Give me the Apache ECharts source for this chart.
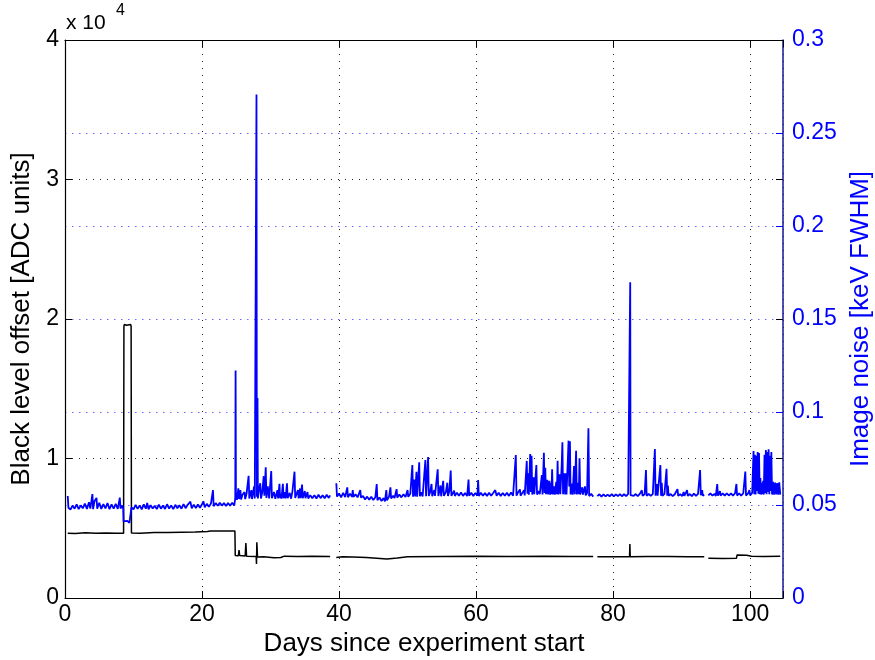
<!DOCTYPE html>
<html>
<head>
<meta charset="utf-8">
<script src="https://cdn.jsdelivr.net/npm/echarts@6/dist/echarts.min.js"></script>
<style>
html, body { margin: 0; padding: 0; background: #fff; }
#chart { width: 875px; height: 660px; }
</style>
</head>
<body>
<div id="chart"></div>
<script>
// black level offset [ADC units] vs day, one array per continuous run
var offsetSegA = [[0.4,4650],[1.5,4620],[3,4670],[4.5,4640],[6,4660],[7.5,4640],[8.55,4650],[8.6,19450],[8.65,19600],[9.0,19550],[9.6,19600],[9.65,19450],[9.7,4660],[11,4640],[13,4700],[15,4690],[17,4720],[19,4730],[20.8,4760],[21.2,4800],[23,4810],[24.8,4800],[24.85,3050],[25.3,3020],[25.4,3440],[25.5,3040],[26.3,3010],[26.4,3940],[26.5,3000],[27.9,2980],[27.95,2440],[28.0,4000],[28.1,2940],[29,2950],[30.5,2880],[31.5,2900],[32,3000],[34,2980],[36,2990],[38.7,2970]];
var offsetSegB = [[39.6,2900],[40.5,2950],[42,2940],[44,2900],[45.5,2850],[47,2800],[48.5,2860],[50,2960],[55,2980],[60,2990],[65,2980],[70,2990],[74,2970],[77.1,2980]];
var offsetSegC = [[77.7,2950],[80,2960],[82.4,2960],[82.45,3870],[82.5,2960],[85,2970],[88,2980],[91,2960],[93.3,2960]];
var offsetSegD = [[93.9,2850],[96,2840],[98,2850],[98.1,3090],[99.5,3060],[100.2,2990],[102,2980],[104.4,2990]];

// image noise [keV FWHM] vs day
var noiseSegA = [[0.4,0.0548],[0.5,0.0485],[0.8,0.0476],[1.1,0.0497],[1.4,0.048],[1.7,0.0503],[2.0,0.0478],[2.3,0.0498],[2.6,0.0482],[2.9,0.0507],[3.2,0.0479],[3.5,0.0515],[3.7,0.0481],[4.0,0.0559],[4.1,0.0478],[4.3,0.052],[4.6,0.0538],[4.7,0.048],[5.0,0.0512],[5.3,0.0479],[5.6,0.0505],[5.9,0.0482],[6.2,0.051],[6.5,0.0478],[6.8,0.0503],[7.1,0.0481],[7.4,0.0506],[7.7,0.0479],[8.0,0.054],[8.1,0.0482],[8.4,0.0497],[8.5,0.0478],
  [8.55,0.0412],[8.8,0.0402],[9.1,0.0415],[9.4,0.0404],[9.65,0.0412],
  [9.7,0.0487],[10.0,0.0476],[10.3,0.0501],[10.6,0.0479],[10.9,0.0498],[11.2,0.0477],[11.5,0.0503],[11.8,0.048],[12.0,0.0511],[12.2,0.0477],[12.5,0.0499],[12.8,0.0481],[13.1,0.0496],[13.4,0.0478],[13.7,0.0502],[14.0,0.048],[14.3,0.0497],[14.6,0.0479],[14.9,0.0504],[15.2,0.0481],[15.5,0.0498],[15.8,0.0478],[16.1,0.0501],[16.4,0.0482],[16.7,0.0499],[17.0,0.048],[17.3,0.0505],[17.6,0.0483],[17.9,0.0501],[18.3,0.0518],[18.5,0.0482],[18.8,0.0502],[19.1,0.0484],[19.4,0.0503],[19.7,0.0485],[20.0,0.0504],[20.2,0.052],[20.4,0.0488],[20.7,0.0506],[21.0,0.049],[21.3,0.0508],[21.6,0.058],[21.7,0.0494],[22.0,0.051],[22.3,0.0496],[22.6,0.0512],[22.9,0.0497],[23.2,0.051],[23.5,0.0495],[23.8,0.0511],[24.1,0.0496],[24.4,0.0512],[24.7,0.0497],
  [24.85,0.0535],[24.9,0.1223],[24.95,0.0545],[25.1,0.0528],[25.3,0.059],[25.4,0.0532],[25.6,0.058],[25.7,0.053],[25.9,0.0555],[26.2,0.057],[26.3,0.0532],[26.5,0.056],[26.8,0.0657],[26.9,0.0535],[27.2,0.058],[27.3,0.0532],[27.6,0.06],[27.7,0.0535],[27.95,0.2707],[28.0,0.0545],[28.1,0.1075],[28.15,0.0535],[28.3,0.058],[28.5,0.0617],[28.6,0.0535],[28.8,0.057],[29.0,0.0655],[29.1,0.055],[29.3,0.0703],[29.4,0.0538],[29.6,0.06],[29.8,0.0535],[30.1,0.0683],[30.2,0.0537],[30.5,0.057],[30.7,0.0533],[31.0,0.058],[31.1,0.0535],[31.3,0.0614],[31.4,0.0536],[31.5,0.056],[31.6,0.0534],[31.8,0.0614],[31.9,0.0536],[32.1,0.057],[32.2,0.0535],[32.4,0.0617],[32.5,0.0537],[32.8,0.0565],[33.0,0.0534],[33.2,0.0575],[33.5,0.0679],[33.6,0.0538],[33.8,0.056],[34.0,0.058],[34.1,0.0536],[34.3,0.0589],[34.4,0.0537],[34.6,0.061],[34.7,0.0536],[35.0,0.0575],[35.1,0.0537],[35.4,0.057],[35.5,0.0535],[35.8,0.0552],[36.1,0.0536],[36.4,0.0553],[36.7,0.0535],[37.0,0.0555],[37.3,0.0537],[37.6,0.0553],[37.9,0.0536],[38.2,0.0555],[38.5,0.0538],[38.7,0.0552]];
var noiseSegB = [[39.6,0.0617],[39.7,0.0545],[40.0,0.0562],[40.3,0.0541],[40.6,0.0565],[40.9,0.0543],[41.2,0.0595],[41.3,0.0542],[41.6,0.056],[41.9,0.0544],[42.0,0.058],[42.1,0.0543],[42.4,0.0558],[42.7,0.0541],[43.1,0.058],[43.2,0.054],[43.5,0.0548],[43.8,0.053],[44.1,0.0545],[44.4,0.0528],[44.7,0.0544],[45.0,0.0527],[45.3,0.0542],[45.5,0.0613],[45.6,0.0526],[45.9,0.054],[46.2,0.0522],[46.5,0.0537],[46.7,0.052],[46.9,0.058],[47.0,0.0525],[47.3,0.0545],[47.5,0.0595],[47.6,0.0535],[47.9,0.055],[48.1,0.0538],[48.4,0.0585],[48.5,0.054],[48.8,0.0556],[49.1,0.0541],[49.4,0.0558],[49.7,0.0543],[50.0,0.058],[50.1,0.0544],[50.4,0.056],[50.7,0.0715],[50.8,0.0545],[51.0,0.0637],[51.1,0.0546],[51.3,0.0678],[51.4,0.0545],[51.7,0.073],[51.8,0.0547],[52.0,0.0568],[52.2,0.0546],[52.6,0.0742],[52.7,0.0547],[53.0,0.0758],[53.1,0.0548],[53.3,0.057],[53.5,0.0613],[53.6,0.0547],[53.9,0.058],[54.0,0.0549],[54.4,0.0692],[54.5,0.0548],[54.8,0.0605],[54.9,0.0547],[55.2,0.063],[55.3,0.0549],[55.6,0.057],[55.8,0.062],[55.9,0.0548],[56.1,0.0575],[56.3,0.0685],[56.4,0.0549],[56.8,0.0577],[56.9,0.0549],[57.2,0.0566],[57.5,0.055],[57.8,0.0567],[58.1,0.0549],[58.4,0.0565],[58.7,0.0548],[58.9,0.0637],[59.0,0.055],[59.3,0.0566],[59.6,0.0549],[59.9,0.0565],[60.2,0.055],[60.3,0.0634],[60.4,0.0549],[60.7,0.0566],[61.0,0.055],[61.3,0.0564],[61.6,0.0549],[61.9,0.0566],[62.2,0.055],[62.5,0.0565],[62.8,0.058],[62.9,0.0584],[63.0,0.055],[63.3,0.0566],[63.6,0.0549],[63.9,0.0565],[64.2,0.055],[64.5,0.0566],[64.8,0.0549],[65.1,0.0567],[65.4,0.055],[65.8,0.0769],[65.9,0.055],[66.1,0.0566],[66.4,0.0584],[66.5,0.055],[66.8,0.0568],[67.0,0.058],[67.1,0.0552],[67.4,0.0737],[67.5,0.056],[67.6,0.067],[67.7,0.0555],[67.9,0.0774],[68.0,0.057],[68.1,0.0765],[68.2,0.0556],[68.4,0.0649],[68.5,0.0558],[68.8,0.0715],[68.9,0.0556],[69.1,0.0575],[69.3,0.0558],[69.6,0.0661],[69.7,0.0557],[69.9,0.0781],[70.0,0.0565],[70.1,0.070],[70.2,0.0558],[70.4,0.0635],[70.5,0.0557],[70.7,0.063],[70.8,0.0556],[70.9,0.062],[71.0,0.0558],[71.1,0.0692],[71.2,0.0557],[71.4,0.06],[71.5,0.0556],[71.7,0.0625],[71.8,0.0558],[71.9,0.0738],[72.0,0.0557],[72.2,0.0665],[72.3,0.0558],[72.5,0.0715],[72.6,0.0837],[72.7,0.0558],[72.9,0.067],[73.0,0.0557],[73.1,0.067],[73.2,0.0556],[73.5,0.0846],[73.6,0.06],[73.7,0.0843],[73.8,0.0557],[74.0,0.0615],[74.1,0.0556],[74.3,0.071],[74.4,0.0558],[74.6,0.0792],[74.7,0.0557],[74.9,0.062],[75.0,0.0558],[75.1,0.0751],[75.2,0.0557],[75.5,0.0595],[75.6,0.0556],[75.9,0.06],[76.0,0.0552],[76.2,0.0563],[76.4,0.0912],[76.5,0.0548],[76.8,0.056],[77.1,0.0545]];
var noiseSegC = [[77.7,0.0548],[78.0,0.0558],[78.3,0.0545],[78.6,0.0557],[78.9,0.0546],[79.2,0.0556],[79.5,0.0547],[79.8,0.0558],[80.1,0.0546],[80.4,0.0557],[80.7,0.0548],[81.0,0.0559],[81.3,0.0547],[81.6,0.0558],[81.9,0.0548],[82.2,0.056],[82.45,0.0552],[82.5,0.1697],[82.55,0.0553],[82.7,0.056],[83.0,0.0549],[83.3,0.0559],[83.6,0.0548],[83.9,0.056],[84.2,0.0579],[84.3,0.0549],[84.6,0.0558],[84.8,0.0688],[84.9,0.055],[85.2,0.0559],[85.5,0.0549],[85.8,0.056],[86.1,0.0801],[86.2,0.055],[86.4,0.0612],[86.5,0.055],[86.9,0.0715],[87.0,0.055],[87.1,0.062],[87.2,0.0549],[87.5,0.056],[87.8,0.0695],[87.9,0.055],[88.0,0.0605],[88.1,0.055],[88.4,0.0559],[88.7,0.0548],[89.0,0.0558],[89.4,0.0585],[89.5,0.0549],[89.8,0.0558],[90.1,0.0548],[90.3,0.057],[90.4,0.0549],[90.8,0.058],[90.9,0.0549],[91.2,0.0559],[91.5,0.0548],[91.8,0.0562],[92.1,0.0549],[92.4,0.056],[92.7,0.0688],[92.8,0.0552],[93.0,0.058],[93.1,0.055],[93.3,0.0556]];
var noiseSegD = [[93.9,0.0552],[94.2,0.0562],[94.5,0.055],[94.8,0.056],[95.0,0.0549],[95.2,0.0613],[95.3,0.055],[95.6,0.0575],[95.7,0.0551],[96.0,0.0562],[96.3,0.055],[96.6,0.0563],[96.9,0.0551],[97.2,0.0562],[97.5,0.055],[97.8,0.0563],[98.0,0.0613],[98.1,0.0551],[98.4,0.0562],[98.7,0.055],[99.0,0.0563],[99.3,0.068],[99.4,0.0551],[99.7,0.0562],[99.9,0.058],[100.0,0.0552],[100.3,0.0565],
  [100.4,0.0555],[100.5,0.079],[100.6,0.0558],[100.7,0.077],[100.8,0.0556],[100.9,0.0765],[101.0,0.0575],[101.1,0.0785],[101.2,0.056],[101.3,0.078],[101.4,0.0558],[101.5,0.0645],[101.6,0.0556],[101.7,0.062],[101.8,0.0558],[101.9,0.063],[102.0,0.0556],[102.1,0.077],[102.2,0.0565],[102.3,0.0795],[102.4,0.0558],[102.5,0.0785],[102.6,0.057],[102.7,0.08],[102.8,0.0558],[102.9,0.0765],[103.0,0.0575],[103.1,0.0785],[103.2,0.0556],[103.35,0.0625],[103.5,0.0555],[103.65,0.062],[103.8,0.0557],[103.95,0.0618],[104.1,0.0556],[104.25,0.0622],[104.4,0.0556]];

// where the logging stopped between runs
var gapDays = [39.1, 77.4, 93.6];

var dayTicks = [0, 20, 40, 60, 80, 100];
var offsetTicks = [0, 10000, 20000, 30000, 40000];
var noiseTicks = [0, 0.05, 0.1, 0.15, 0.2, 0.25, 0.3];

var FONT = 'Liberation Sans, Arial, Helvetica, sans-serif';

function joinRuns(runs) {
	var out = [];
	for (var i = 0; i < runs.length; i++) {
		out = out.concat(runs[i]);
		if (i < gapDays.length) out.push([gapDays[i], '-']);
	}
	return out;
}

var offsetData = joinRuns([offsetSegA, offsetSegB, offsetSegC, offsetSegD]);
var noiseData = joinRuns([noiseSegA, noiseSegB, noiseSegC, noiseSegD]);

var chart = echarts.init(document.getElementById('chart'), null, { renderer: 'canvas' });

var dotBlack = { color: '#222', width: 1, type: [1, 6] };
var dotBlue = { color: '#6a6aff', width: 1, type: [1.5, 5.5] };

chart.setOption({
	animation: false,
	backgroundColor: '#fff',
	grid: { left: 65, right: 92, top: 40, bottom: 62, outerBoundsMode: 'none' },
	graphic: [
		{ type: 'text', left: 66, top: 13, style: { text: 'x 10', font: '21px ' + FONT, fill: '#000' } },
		{ type: 'text', left: 116, top: 3, style: { text: '4', font: '16px ' + FONT, fill: '#000' } }
	],
	xAxis: [{
		type: 'value',
		min: dayTicks[0],
		max: 104.8,
		interval: 20,
		position: 'bottom',
		name: 'Days since experiment start',
		nameLocation: 'middle',
		nameGap: 30,
		nameTextStyle: { fontFamily: FONT, fontSize: 26, color: '#000' },
		axisLine: { onZero: false, lineStyle: { color: '#000', width: 1.2 } },
		axisTick: { inside: true, length: 7, lineStyle: { color: '#000' } },
		axisLabel: {
			fontFamily: FONT, fontSize: 23, color: '#000', margin: 5,
			formatter: function(v) { return dayTicks.indexOf(v) >= 0 ? String(v) : ''; }
		},
		splitLine: { show: true, lineStyle: dotBlack }
	}, {
		type: 'value',
		min: dayTicks[0],
		max: 104.8,
		interval: 20,
		position: 'top',
		axisLine: { onZero: false, lineStyle: { color: '#000', width: 1.2 } },
		axisTick: { inside: true, length: 7, lineStyle: { color: '#000' } },
		axisLabel: { show: false },
		splitLine: { show: false }
	}],
	yAxis: [{
		type: 'value',
		min: offsetTicks[0],
		max: offsetTicks[offsetTicks.length - 1],
		interval: 10000,
		position: 'left',
		name: 'Black level offset [ADC units]',
		nameLocation: 'middle',
		nameRotate: 90,
		nameGap: 26,
		nameTextStyle: { fontFamily: FONT, fontSize: 26, color: '#000' },
		axisLine: { show: true, onZero: false, lineStyle: { color: '#000', width: 1.2 } },
		axisTick: { show: true, inside: true, length: 7, lineStyle: { color: '#000' } },
		axisLabel: {
			fontFamily: FONT, fontSize: 23, color: '#000', margin: 6,
			formatter: function(v) { return String(v / 10000); }
		},
		splitLine: { show: true, lineStyle: dotBlack }
	}, {
		type: 'value',
		min: noiseTicks[0],
		max: noiseTicks[noiseTicks.length - 1],
		interval: 0.05,
		position: 'right',
		name: 'Image noise [keV FWHM]',
		nameLocation: 'middle',
		nameRotate: 90,
		nameGap: 60,
		nameTextStyle: { fontFamily: FONT, fontSize: 26, color: '#0000ff' },
		axisLine: { show: true, onZero: false, lineStyle: { color: '#2424a0', width: 1.6 } },
		axisTick: { show: true, inside: true, length: 7, lineStyle: { color: '#0000ff' } },
		axisLabel: {
			fontFamily: FONT, fontSize: 23, color: '#0000ff', margin: 9,
			formatter: function(v) { return String(+v.toFixed(2)); }
		},
		splitLine: { show: true, lineStyle: dotBlue }
	}, {
		// left-axis ticks repeated on the right edge, like the box in the original
		type: 'value',
		min: offsetTicks[0],
		max: offsetTicks[offsetTicks.length - 1],
		interval: 10000,
		position: 'right',
		axisLine: { show: false, onZero: false },
		axisTick: { show: true, inside: true, length: 7, lineStyle: { color: '#000' } },
		axisLabel: { show: false },
		splitLine: { show: false }
	}],
	series: [{
		name: 'Black level offset',
		type: 'line',
		xAxisIndex: 0,
		yAxisIndex: 0,
		data: offsetData,
		showSymbol: false,
		connectNulls: false,
		lineStyle: { color: '#000', width: 1.5 },
		z: 3
	}, {
		name: 'Image noise',
		type: 'line',
		xAxisIndex: 0,
		yAxisIndex: 1,
		data: noiseData,
		showSymbol: false,
		connectNulls: false,
		lineStyle: { color: '#0000ff', width: 1.8 },
		z: 4
	}]
});
</script>
</body>
</html>
